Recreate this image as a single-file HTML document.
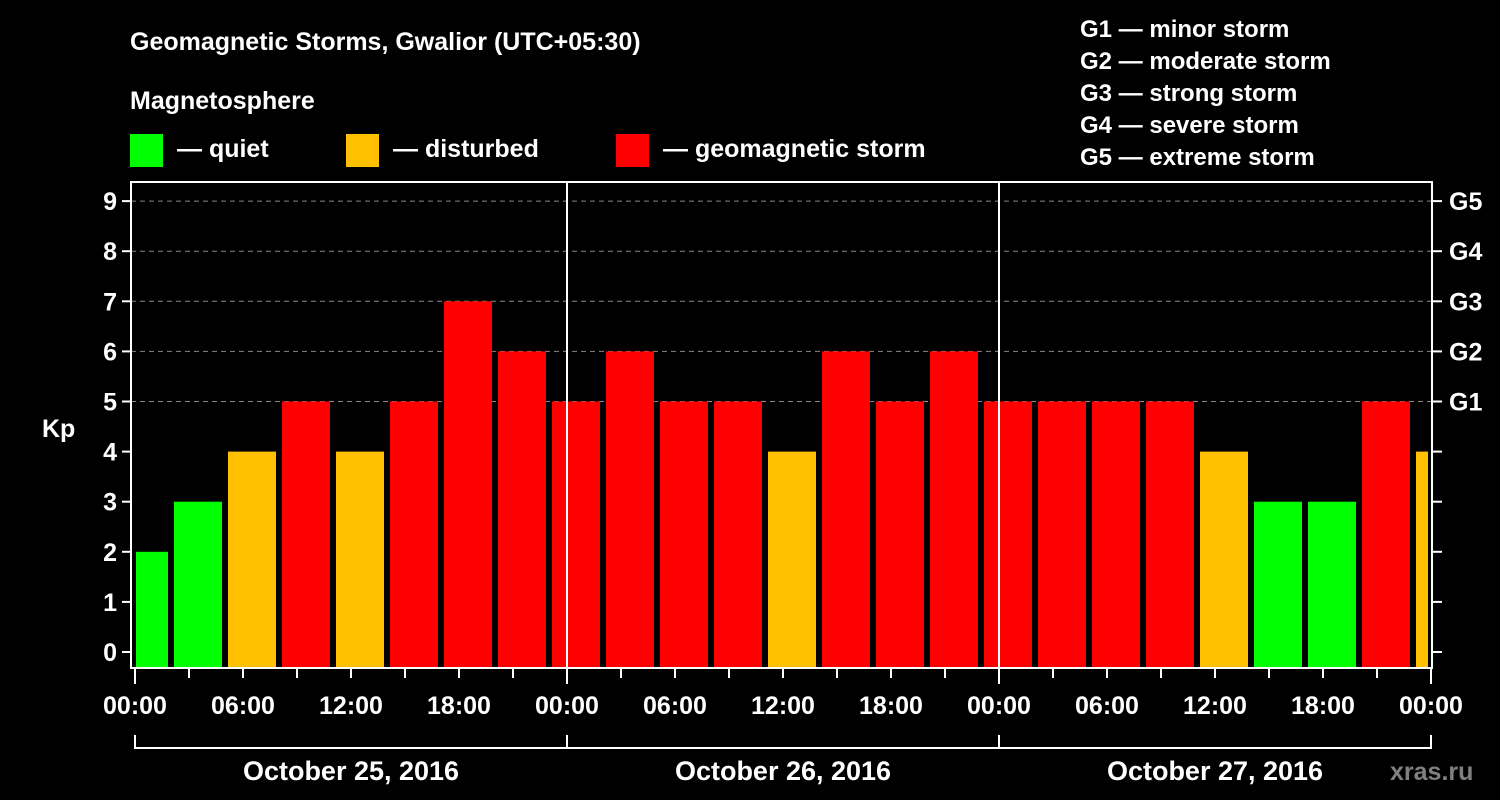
<!DOCTYPE html>
<html><head><meta charset="utf-8"><style>
body{margin:0;background:#000;width:1500px;height:800px;overflow:hidden}
svg{display:block}
text{font-family:"Liberation Sans",sans-serif;font-weight:bold;fill:#fff}
</style></head><body>
<svg id="c" width="1500" height="800">
<text x="130" y="50" font-size="25">Geomagnetic Storms, Gwalior (UTC+05:30)</text>
<text x="130" y="109" font-size="25">Magnetosphere</text>
<g><rect x="130" y="134" width="33" height="33" fill="#00ff00"/><text x="177" y="157" font-size="25">— quiet</text></g>
<g><rect x="346" y="134" width="33" height="33" fill="#ffc000"/><text x="393" y="157" font-size="25">— disturbed</text></g>
<g><rect x="616" y="134" width="33" height="33" fill="#ff0000"/><text x="663" y="157" font-size="25">— geomagnetic storm</text></g>
<g font-size="24">
<text x="1080" y="37">G1 — minor storm</text><text x="1080" y="69">G2 — moderate storm</text><text x="1080" y="101">G3 — strong storm</text><text x="1080" y="133">G4 — severe storm</text><text x="1080" y="165">G5 — extreme storm</text></g>
<text x="42" y="437" font-size="25">Kp</text>
<text x="1390" y="780" font-size="25" fill="#808080" style="fill:#808080">xras.ru</text>
<g id="plot"></g>
</svg>
<script>
const kpValues=[2,3,4,5,4,5,7,6,5,6,5,5,4,6,5,6,5,5,5,5,4,3,3,5,4];
const startHour=-1;
const yTicks=[0,1,2,3,4,5,6,7,8,9];
const gLabels=["G1","G2","G3","G4","G5"];
const dayLabels=["October 25, 2016","October 26, 2016","October 27, 2016"];
const hourLabels=["00:00","06:00","12:00","18:00"];
const NS="http://www.w3.org/2000/svg";
const g=document.getElementById('plot');
const X=h=>135+Math.max(-0.2,Math.min(72,h))*18;
const Y=v=>652-v*50.1;
function el(t,a,p){const e=document.createElementNS(NS,t);for(const k in a)e.setAttribute(k,a[k]);(p||g).appendChild(e);return e;}
const L=131,R=1432,T=182,B=668;
yTicks.forEach(v=>{
 if(v>=5){const d=el('line',{x1:L,x2:R,y1:Y(v),y2:Y(v),stroke:'#888','stroke-dasharray':'5,4','stroke-width':1});
 }
 const t=el('line',{x1:L-9,x2:L,y1:Y(v),y2:Y(v),stroke:'#fff','stroke-width':2});
 
 const t2=el('line',{x1:R,x2:R+10,y1:Y(v),y2:Y(v),stroke:'#fff','stroke-width':2});
 
 const tx=el('text',{x:L-14,y:Y(v)+9,'font-size':25,'text-anchor':'end'});tx.textContent=v;
 
 if(v>=5){const gt=el('text',{x:R+17,y:Y(v)+9,'font-size':25});gt.textContent=gLabels[v-5];
 }
});
kpValues.forEach((v,i)=>{
 const s=startHour+3*i,e=s+3;
 const x1=Math.max(X(s)+3,136),x2=Math.min(X(e)-3,1428);
 const col=v<4?'#00ff00':(v<5?'#ffc000':'#ff0000');
 const r=el('rect',{x:x1,y:Y(v),width:x2-x1,height:Y(0)-Y(v)+(B-1-Y(0)),fill:col});
 
});
[1,2].forEach(d=>{const l=el('line',{x1:X(24*d),x2:X(24*d),y1:T,y2:B,stroke:'#fff','stroke-width':2});
 });
const fr=el('rect',{x:L,y:T,width:R-L,height:B-T,fill:'none',stroke:'#fff','stroke-width':2});

for(let h=0;h<=72;h+=3){
 const big=h%24===0;
 const t=el('line',{x1:X(h),x2:X(h),y1:B,y2:B+(big?16:10),stroke:'#fff','stroke-width':2});
 
 if(h%6===0){const tx=el('text',{x:X(h),y:B+46,'font-size':25,'text-anchor':'middle'});
 tx.textContent=hourLabels[(h%24)/6];
 }
}
dayLabels.forEach((d,i)=>{
 const b=el('path',{d:`M${X(24*i)},735V748H${X(24*i+24)}V735`,fill:'none',stroke:'#fff','stroke-width':2});
 
 const tx=el('text',{x:X(24*i+12),y:780,'font-size':27,'text-anchor':'middle'});tx.textContent=d;
 
});
</script>
</body></html>
